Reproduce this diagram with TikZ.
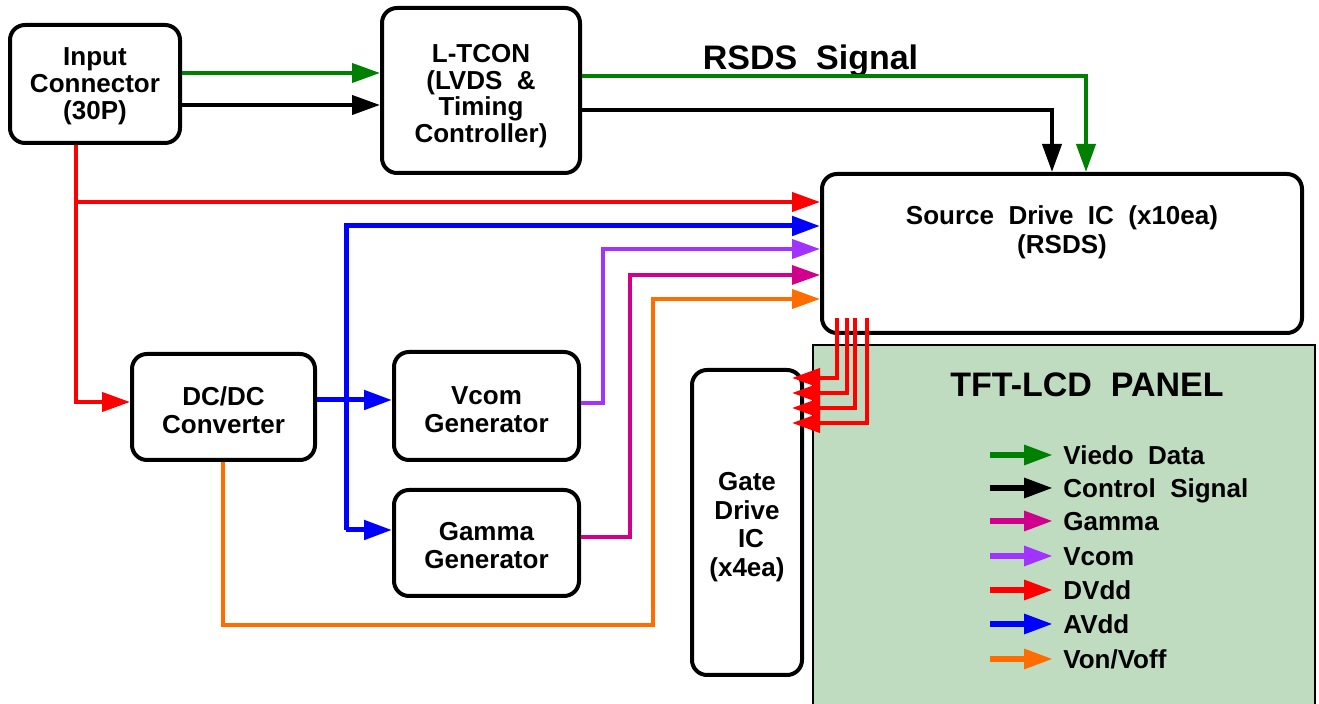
\documentclass[tikz,border=0pt]{standalone}
\usepackage{fontspec}
\setmainfont{Liberation Sans}[WordSpace=2]
\usetikzlibrary{arrows.meta}
\definecolor{cgreen}{RGB}{0,128,0}
\definecolor{cpurple}{RGB}{160,51,255}
\definecolor{cmag}{RGB}{208,0,140}
\definecolor{corange}{RGB}{255,108,0}
\definecolor{cpanel}{RGB}{192,220,192}
\begin{document}
\begin{tikzpicture}[x=0.5pt,y=-0.5pt,
  every node/.style={font=\bfseries\fontsize{13}{14}\selectfont, inner sep=0pt},
  box/.style={draw, line width=2pt, rounded corners=7.5pt},
  btext/.style={align=center},
  sig/.style={line width=2pt, -{Triangle[length=14pt,width=9.5pt]}},
  legsig/.style={line width=3pt, -{Triangle[length=14.5pt,width=9.5pt]}},
  leg/.style={anchor=west, text height=9.3pt, text depth=0pt},
]
\useasboundingbox (0,0) rectangle (1319,704);

% panel
\draw[fill=cpanel, line width=1pt] (813,345) rectangle (1315,708);
\node[font=\bfseries\fontsize{17}{19}\selectfont] (tft) at (1087,385) {TFT-LCD PANEL};

% boxes
\node[box, minimum width=85pt, minimum height=59pt] (inp) at (95,84) {};
\node[btext, font=\bfseries\fontsize{13}{13.5}\selectfont] (inpt) at (95,86) {Input\\Connector\\(30P)};
\node[box, minimum width=99pt, minimum height=82.5pt] (ltcon) at (481,90.5) {};
\node[btext, font=\bfseries\fontsize{13}{13.3}\selectfont] (ltcont) at (481,96) {L-TCON\\(LVDS \&\\Timing\\Controller)};
\node[box, minimum width=240pt, minimum height=79.5pt] (src) at (1062,253.5) {};
\node[btext, font=\bfseries\fontsize{13}{14.5}\selectfont] (srct) at (1062,232.5) {Source Drive IC (x10ea)\\(RSDS)};
\node[box, minimum width=91.5pt, minimum height=53pt] (dcdc) at (223.5,407) {};
\node[btext] (dcdct) at (223.5,410) {DC/DC\\Converter};
\node[box, minimum width=92.5pt, minimum height=54pt] (vcom) at (486.5,406) {};
\node[btext] (vcomt) at (486.5,410) {Vcom\\Generator};
\node[box, minimum width=92.5pt, minimum height=53pt] (gamma) at (486.5,543) {};
\node[btext] (gammat) at (486.5,546) {Gamma\\Generator};
\node[box, minimum width=55pt, minimum height=152.5pt] (gate) at (747,522.5) {};
\node[btext, font=\bfseries\fontsize{13}{14.3}\selectfont] (gatet) at (747,527) {Gate\\Drive\\\hspace*{4pt}IC\\(x4ea)};

\node[font=\bfseries\fontsize{17}{19}\selectfont] (rsds) at (810.5,61) {RSDS Signal};

% input -> L-TCON
\draw[sig, cgreen] (inp.east |- 0,73) -- (ltcon.west |- 0,73);
\draw[sig, black] (inp.east |- 0,105) -- (ltcon.west |- 0,105);

% L-TCON -> source
\draw[sig, cgreen] (ltcon.east |- 0,76) -| (src.north -| 1086,0);
\draw[sig, black] (ltcon.east |- 0,110) -| (src.north -| 1052,0);

% red DVdd
\coordinate (rb) at (76,202);
\draw[sig, red] (inp.south -| 76,0) |- (dcdc.west |- 0,402);
\draw[sig, red] (rb) -- (src.west |- rb);

% blue AVdd
\coordinate (bv2) at (346,530);
\draw[sig, blue, line width=2.5pt] (dcdc.east |- 0,400) -- (vcom.west |- 0,400);
\draw[sig, blue, line width=2.5pt] (bv2) |- (src.west |- 0,226);
\draw[sig, blue, line width=2.5pt] (bv2) -- (gamma.west |- bv2);

% purple Vcom
\draw[sig, cpurple] (vcom.east |- 0,403) -| (603,249) -- (src.west |- 0,249);
% magenta Gamma
\draw[sig, cmag, line width=1.7pt] (gamma.east |- 0,537) -| (630,275) -- (src.west |- 0,275);
% orange Von/Voff
\draw[sig, corange] (dcdc.south -| 223,0) |- (653,625) |- (src.west |- 0,299);

% source -> gate
\coordinate (g1) at (837,318);
\coordinate (g2) at (847,318);
\coordinate (g3) at (855,318);
\coordinate (g4) at (867,318);
\draw[sig, red] (g1) |- ([xshift=-6pt]gate.east |- 0,378);
\draw[sig, red] (g2) |- ([xshift=-6pt]gate.east |- 0,393);
\draw[sig, red] (g3) |- ([xshift=-6pt]gate.east |- 0,408);
\draw[sig, red] (g4) |- ([xshift=-6pt]gate.east |- 0,423);

% legend
\node[leg] (l1) at (1063,455) {Viedo Data};
\node[leg] (l2) at (1063,488) {Control Signal};
\node[leg] (l3) at (1063,521) {Gamma};
\node[leg] (l4) at (1063,556) {Vcom};
\node[leg] (l5) at (1063,590) {DVdd};
\node[leg] (l6) at (1063,624) {AVdd};
\node[leg] (l7) at (1063,659) {Von/Voff};
\draw[legsig, cgreen] ([xshift=-36.5pt]l1.west) -- ([xshift=-5pt]l1.west);
\draw[legsig, black] ([xshift=-36.5pt]l2.west) -- ([xshift=-5pt]l2.west);
\draw[legsig, cmag] ([xshift=-36.5pt]l3.west) -- ([xshift=-5pt]l3.west);
\draw[legsig, cpurple] ([xshift=-36.5pt]l4.west) -- ([xshift=-5pt]l4.west);
\draw[legsig, red] ([xshift=-36.5pt]l5.west) -- ([xshift=-5pt]l5.west);
\draw[legsig, blue] ([xshift=-36.5pt]l6.west) -- ([xshift=-5pt]l6.west);
\draw[legsig, corange] ([xshift=-36.5pt]l7.west) -- ([xshift=-5pt]l7.west);
\end{tikzpicture}
\end{document}
